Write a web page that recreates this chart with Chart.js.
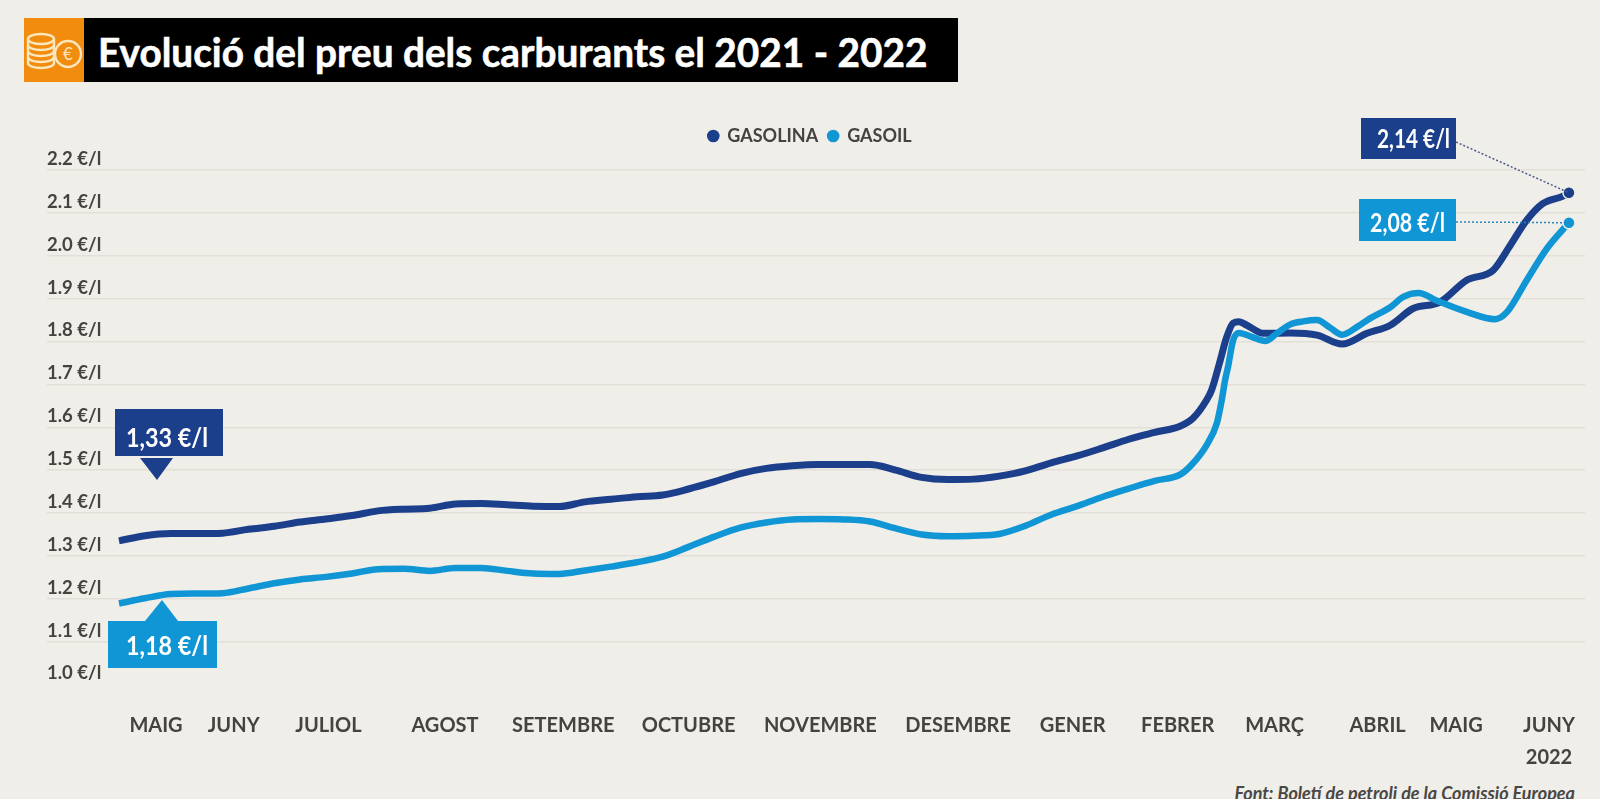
<!DOCTYPE html>
<html lang="ca">
<head>
<meta charset="utf-8">
<title>Evolució del preu dels carburants</title>
<script src="https://cdn.jsdelivr.net/npm/chart.js@4/dist/chart.umd.min.js"></script>
<style>
  html, body { margin: 0; padding: 0; background: #fff; }
  #fons { position: absolute; left: 0; top: 0; width: 1600px; height: 799px; background: #f0eee9; overflow: hidden; }
  #icona { position: absolute; left: 24px; top: 18px; width: 60px; height: 64px; background: #f28c0f; }
  #barra { position: absolute; left: 84px; top: 18px; width: 874px; height: 64px; background: #000; }
  #titol { position: absolute; left: 98px; top: 20px; height: 64px; color: #fff;
           font: 700 41px/64px Lato, sans-serif; white-space: nowrap; transform-origin: left center; transform: scaleX(0.945);
           -webkit-text-stroke: 0.6px #fff; }
  #font { position: absolute; right: 25px; top: 783px; color: #4a4845; font: italic 700 18px/20px Lato, sans-serif; white-space: nowrap; }
  canvas { position: absolute; left: 0; top: 0; }
</style>
</head>
<body>
<div id="fons">
  <div id="icona">
    <svg width="60" height="64" viewBox="0 0 60 64" fill="none" stroke="#fbe7bd" stroke-width="2.4">
      <ellipse cx="17" cy="21" rx="13" ry="5"/>
      <path d="M4 21v24c0 3 6 5 13 5s13-2 13-5V21"/>
      <path d="M4 27c0 3 6 5 13 5s13-2 13-5M4 33c0 3 6 5 13 5s13-2 13-5M4 39c0 3 6 5 13 5s13-2 13-5"/>
      <circle cx="44" cy="36" r="13" fill="#f28c0f"/>
      <text x="44" y="42" text-anchor="middle" font-family="Lato" font-size="17" fill="#fbe7bd" stroke="none">€</text>
    </svg>
  </div>
  <div id="barra"></div>
  <div id="titol">Evolució del preu dels carburants el 2021 - 2022</div>
  <div id="font">Font: Boletí de petroli de la Comissió Europea</div>
</div>
<canvas id="grafic" width="1600" height="806"></canvas>
<script>
// setmanes des del maig de 2021
var xGasolina = [0,1,2,3,4,5,6,7,8,9,10,11,12,13,14,15,16,17,18,19,20,21,22,23,24,25,26,27,28,29,30,31,32,33,34,35,36,37,38,39,40,41,
  41.48,42,42.2,42.5,42.78,43.03,43.26,43.56,44.2,45.24,46.27,47.24,48.2,49.1,49.98,51.02,52.05,53.07,53.73,54.37,55,55.77,56];
var gasolina = [1.335,1.347,1.352,1.352,1.353,1.362,1.369,1.379,1.386,1.394,1.405,1.409,1.411,1.421,1.422,1.419,1.416,1.415,1.426,1.432,1.438,1.442,
  1.456,1.473,1.492,1.504,1.510,1.513,1.513,1.513,1.500,1.483,1.478,1.479,1.486,1.498,1.517,1.533,1.552,1.572,1.588,1.603,
  1.621,1.663,1.687,1.749,1.810,1.843,1.846,1.838,1.819,1.820,1.815,1.794,1.819,1.838,1.877,1.892,1.943,1.966,2.024,2.083,2.122,2.139,2.147];

var xGasoil = [0,1,2,3,4,5,6,7,8,9,10,11,12,13,14,15,16,17,18,19,20,21,22,23,24,25,26,27,28,29,30,31,32,33,34,35,36,37,38,39,40,41,
  41.48,42,42.4,42.59,42.72,42.83,43.03,43.26,43.75,44.27,44.72,45.24,45.73,46.27,46.78,47.24,47.82,48.32,49.1,49.6,50.19,50.91,52.05,53.15,53.61,54.37,55.15,56];
var gasoil = [1.189,1.201,1.211,1.212,1.213,1.224,1.236,1.245,1.251,1.259,1.269,1.270,1.265,1.272,1.272,1.265,1.259,1.258,1.266,1.275,1.285,1.298,
  1.321,1.345,1.366,1.378,1.385,1.386,1.385,1.380,1.364,1.350,1.346,1.347,1.351,1.370,1.396,1.416,1.438,1.457,1.475,1.490,
  1.516,1.558,1.609,1.663,1.710,1.740,1.803,1.820,1.811,1.801,1.819,1.840,1.847,1.850,1.832,1.816,1.834,1.854,1.880,1.904,1.913,1.895,1.869,1.852,1.869,1.943,2.017,2.077];

var mesos = ['MAIG','JUNY','JULIOL','AGOST','SETEMBRE','OCTUBRE','NOVEMBRE','DESEMBRE','GENER','FEBRER','MARÇ','ABRIL','MAIG',['JUNY','2022']];
var posMesos = [1.43,4.43,8.09,12.59,17.16,22.0,27.09,32.41,36.83,40.89,44.63,48.61,51.64,55.23];

var colorGasolina = '#1b3f8b';
var colorGasoil = '#1095d5';
var colorText = '#45433f';
var colorFons = '#f0eee9';

function punts(xs, ys) {
  return xs.map(function (x, i) { return { x: x, y: ys[i] }; });
}
function puntFinal(ctx) {
  return ctx.dataIndex === ctx.dataset.data.length - 1 ? 6 : 0;
}

// la llegenda necessita mes aire per sota
var espaiLlegenda = {
  id: 'espaiLlegenda',
  beforeLayout: function (chart) {
    if (chart.legend._ampliada) return;
    var fit = chart.legend.fit;
    chart.legend.fit = function () {
      fit.call(this);
      this.height += 15;
    };
    chart.legend._ampliada = true;
  }
};

function caixa(ctx, color, x, y, w, h, text, tx, ty, tw) {
  ctx.fillStyle = color;
  ctx.fillRect(x, y, w, h);
  ctx.fillStyle = '#fff';
  ctx.font = '700 27px Lato, sans-serif';
  ctx.textAlign = 'left';
  ctx.textBaseline = 'middle';
  ctx.fillText(text, tx, ty, tw);
}
function triangle(ctx, color, x1, x2, yBase, xPunta, yPunta) {
  ctx.fillStyle = color;
  ctx.beginPath();
  ctx.moveTo(x1, yBase);
  ctx.lineTo(x2, yBase);
  ctx.lineTo(xPunta, yPunta);
  ctx.closePath();
  ctx.fill();
}

var etiquetes = {
  id: 'etiquetes',
  afterDatasetsDraw: function (chart) {
    var ctx = chart.ctx;
    var sx = chart.scales.x, sy = chart.scales.y;
    var xFi = sx.getPixelForValue(56);
    ctx.save();

    // linies de punts cap als valors finals
    ctx.setLineDash([2, 2]);
    ctx.lineWidth = 1.5;
    ctx.strokeStyle = '#4b5c8c';
    ctx.beginPath();
    ctx.moveTo(1456, 142);
    ctx.lineTo(xFi, sy.getPixelForValue(gasolina[gasolina.length - 1]));
    ctx.stroke();
    ctx.strokeStyle = '#2a86b8';
    ctx.beginPath();
    ctx.moveTo(1456, 222);
    ctx.lineTo(xFi, sy.getPixelForValue(gasoil[gasoil.length - 1]));
    ctx.stroke();
    ctx.setLineDash([]);

    caixa(ctx, colorGasolina, 1361, 118, 95, 41, '2,14 €/l', 1377, 139, 73);
    caixa(ctx, colorGasoil, 1359, 199, 97, 42, '2,08 €/l', 1370, 223, 75);

    caixa(ctx, colorGasolina, 115, 409, 108, 47, '1,33 €/l', 126, 438, 82);
    triangle(ctx, colorGasolina, 140, 173, 458, 157, 480);

    caixa(ctx, colorGasoil, 108, 621, 109, 47, '1,18 €/l', 126, 646, 82);
    triangle(ctx, colorGasoil, 145, 178, 621, 162, 600);

    ctx.restore();
  }
};

var grafic = new Chart(document.getElementById('grafic'), {
  type: 'line',
  data: {
    datasets: [
      {
        label: 'GASOIL',
        data: punts(xGasoil, gasoil),
        borderColor: colorGasoil,
        backgroundColor: colorGasoil,
        pointBackgroundColor: colorGasoil,
        pointBorderColor: colorFons,
        pointBorderWidth: 1.5,
        pointRadius: puntFinal,
        borderWidth: 6.5,
        cubicInterpolationMode: 'monotone'
      },
      {
        label: 'GASOLINA',
        data: punts(xGasolina, gasolina),
        borderColor: colorGasolina,
        backgroundColor: colorGasolina,
        pointBackgroundColor: colorGasolina,
        pointBorderColor: colorFons,
        pointBorderWidth: 1.5,
        pointRadius: puntFinal,
        borderWidth: 7,
        cubicInterpolationMode: 'monotone'
      }
    ]
  },
  options: {
    responsive: false,
    animation: false,
    layout: { padding: { left: 35, right: 15, top: 117, bottom: 0 } },
    plugins: {
      tooltip: { enabled: false },
      legend: {
        reverse: true,
        labels: {
          usePointStyle: true,
          pointStyle: 'circle',
          boxWidth: 10,
          boxHeight: 10,
          padding: 10,
          color: colorText,
          font: { family: 'Lato, sans-serif', size: 18, weight: '700' }
        }
      }
    },
    scales: {
      x: {
        type: 'linear',
        min: -2.78,
        max: 56.62,
        afterFit: function (s) {
          s.height = 121.5;
          s.paddingLeft = 0;
          s.paddingRight = 0;
        },
        afterBuildTicks: function (s) {
          s.ticks = posMesos.map(function (v) { return { value: v }; });
        },
        grid: { display: false },
        border: { display: false },
        ticks: {
          autoSkip: false,
          maxRotation: 0,
          padding: 17,
          color: colorText,
          font: { family: 'Lato, sans-serif', size: 20, weight: '700', lineHeight: 1.6 },
          callback: function (v, i) { return mesos[i]; }
        }
      },
      y: {
        min: 1.0,
        max: 2.2,
        afterFit: function (s) { s.width = 12; },
        grid: {
          drawTicks: false,
          lineWidth: 1.5,
          color: function (ctx) { return ctx.tick.value <= 1.0 ? 'rgba(0,0,0,0)' : '#e2dfd8'; }
        },
        border: { display: false },
        ticks: {
          stepSize: 0.1,
          mirror: true,
          padding: 0,
          labelOffset: -11,
          color: colorText,
          font: { family: 'Lato, sans-serif', size: 18.5, weight: '700' },
          callback: function (v) { return v.toFixed(1) + ' €/l'; }
        }
      }
    }
  },
  plugins: [espaiLlegenda, etiquetes]
});
</script>
</body>
</html>
